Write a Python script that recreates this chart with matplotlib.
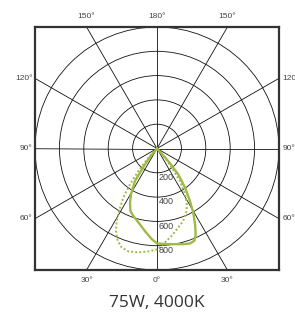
import numpy as np
import matplotlib
matplotlib.use('Agg')
import matplotlib.pyplot as plt
from matplotlib.patches import Circle

# Intensity distribution (cd), gamma angle in degrees, 0 = straight down
solid_angles = [-45, -40, -37, -34, -29.5, -26.4, -23, -19.3, -14, -8, -3.3, 0,
                5, 10.6, 15, 19, 22, 24.2, 26.6, 29.4, 32, 35.5, 39.3, 41.7, 45]
solid_values = [0, 80, 164, 323, 433, 497, 558, 588, 628, 690, 747, 781,
                790, 801, 815, 827, 819, 773, 697, 605, 510, 396, 275, 139, 0]

dotted_angles = [-45, -43, -39.5, -36.9, -34.4, -31.2, -29, -26.4, -23, -19.6, -15.5, -10.2,
                 -4.8, 0.7, 4.8, 9.5, 15, 19.9, 25.3, 28.7, 31.3, 35.1, 37.3, 42, 45]
dotted_values = [0, 104, 241, 369, 489, 601, 681, 757, 825, 864, 879, 869,
                 850, 828, 776, 729, 673, 633, 568, 507, 441, 328, 199, 80, 0]

ring_values = [200, 400, 600, 800, 1000]
ring_labels = ['200', '400', '600', '800']
spoke_angles = list(range(0, 360, 30))

top_labels = ['150°', '180°', '150°']
side_labels = ['120°', '90°', '60°']
bottom_labels = ['30°', '0°', '30°']

green = '#9dbb44'
rmax = 1000


def to_xy(angles, values):
    a = np.radians(angles)
    v = np.asarray(values, dtype=float)
    return v * np.sin(a), -v * np.cos(a)


fig = plt.figure(figsize=(2.95, 3.14), dpi=100)
ax = fig.add_axes([35 / 295, 44 / 314, 244 / 295, 243 / 314])
ax.set_xlim(-rmax, rmax)
ax.set_ylim(-rmax, rmax)
ax.set_aspect('auto')
ax.set_xticks([])
ax.set_yticks([])
for s in ax.spines.values():
    s.set_linewidth(1.6)
    s.set_color('#333333')

# grid circles and spokes
for r in ring_values:
    ax.add_patch(Circle((0, 0), r, fill=False, lw=0.6, ec='#111111'))
for a in spoke_angles:
    x, y = to_xy([a, a], [0, 3000])
    ax.plot(x, y, color='#111111', lw=0.6)

# curves
x, y = to_xy(solid_angles, solid_values)
ax.plot(x, y, color=green, lw=1.7, solid_joinstyle='round')
x, y = to_xy(dotted_angles, dotted_values)
ax.plot(x, y, color=green, lw=1.4, ls=(0, (1, 1.1)))

# radial value labels
for r, lab in zip(ring_values, ring_labels):
    ax.text(15, -r - 38, lab, ha='left', va='center', fontsize=6.5,
            color='#444444', family='Liberation Sans')

t = rmax * np.tan(np.radians(30))
kw = dict(fontsize=6, color='#444444', family='Liberation Sans')
for xpos, lab in zip([-t, 0, t], top_labels):
    ax.text(xpos, rmax + 55, lab, ha='center', va='bottom', **kw)
for ypos, lab in zip([t, 0, -t], side_labels):
    ax.text(-rmax - 20, ypos, lab, ha='right', va='center', **kw)
    ax.text(rmax + 30, ypos, lab, ha='left', va='center', **kw)
for xpos, lab in zip([-t, 0, t], bottom_labels):
    ax.text(xpos, -rmax - 55, lab, ha='center', va='top', **kw)

fig.text(157 / 295, 1 - 303 / 314, '75W, 4000K', ha='center', va='center',
         fontsize=12.5, color='#333333', family='Open Sans')

fig.savefig('out.png', dpi=100)
